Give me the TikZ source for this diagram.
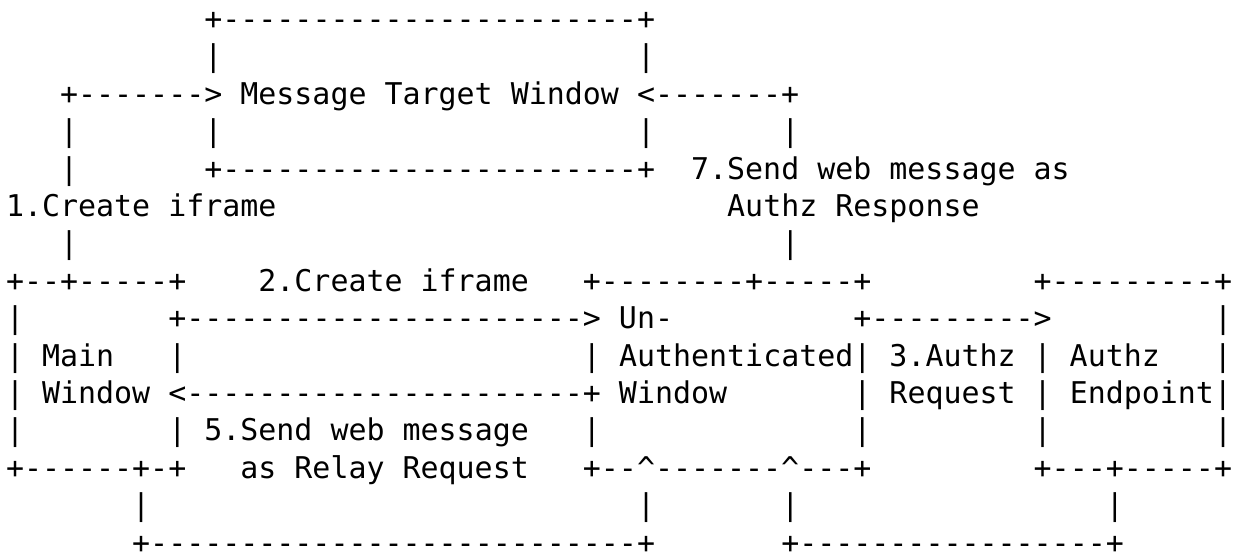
\documentclass[tikz,border=0pt]{standalone}
\usepackage{fontspec}
\newfontfamily\asciifont[Ligatures=TeXOff]{DejaVu Sans Mono}
\ExplSyntaxOn
\NewDocumentCommand\blanks{m}{\prg_replicate:nn{#1}{\nobreakspace}}
\NewDocumentCommand\dashes{m}{\prg_replicate:nn{#1}{-}}
\ExplSyntaxOff
\tikzset{
  row/.style={anchor=base west, inner sep=0pt, outer sep=0pt,
    font={\asciifont\fontsize{14.974pt}{18pt}\selectfont}, text=black}
}
\begin{document}
\begin{tikzpicture}[x=0.5pt,y=-0.5pt]
\fill[white] (0,0) rectangle (1238,552);
\useasboundingbox (0,0) rectangle (1238,552);
\def\rowy#1{29.5+(#1-1)*37.4}
\node[row] (r1)  at (6,{\rowy{1}})  {\blanks{11}+\dashes{23}+};
\node[row] (r2)  at (6,{\rowy{2}})  {\blanks{11}|\blanks{23}|};
\node[row] (r3)  at (6,{\rowy{3}})  {\blanks{3}+\dashes{7}> Message Target Window <\dashes{7}+};
\node[row] (r4)  at (6,{\rowy{4}})  {\blanks{3}|\blanks{7}|\blanks{23}|\blanks{7}|};
\node[row] (r5)  at (6,{\rowy{5}})  {\blanks{3}|\blanks{7}+\dashes{23}+\blanks{2}7.Send web message as};
\node[row] (r6)  at (6,{\rowy{6}})  {1.Create iframe\blanks{25}Authz Response};
\node[row] (r7)  at (6,{\rowy{7}})  {\blanks{3}|\blanks{39}|};
\node[row] (r8)  at (6,{\rowy{8}})  {+\dashes{2}+\dashes{5}+\blanks{4}2.Create iframe\blanks{3}+\dashes{8}+\dashes{5}+\blanks{9}+\dashes{9}+};
\node[row] (r9)  at (6,{\rowy{9}})  {|\blanks{8}+\dashes{22}>\blanks{1}Un-\blanks{10}+\dashes{9}>\blanks{9}|};
\node[row] (r10) at (6,{\rowy{10}}) {|\blanks{1}Main\blanks{3}|\blanks{22}|\blanks{1}Authenticated|\blanks{1}3.Authz\blanks{1}|\blanks{1}Authz\blanks{3}|};
\node[row] (r11) at (6,{\rowy{11}}) {|\blanks{1}Window\blanks{1}<\dashes{22}+\blanks{1}Window\blanks{7}|\blanks{1}Request\blanks{1}|\blanks{1}Endpoint|};
\node[row] (r12) at (6,{\rowy{12}}) {|\blanks{8}|\blanks{1}5.Send web message\blanks{3}|\blanks{14}|\blanks{9}|\blanks{9}|};
\node[row] (r13) at (6,{\rowy{13}}) {+\dashes{6}+-+\blanks{3}as Relay Request\blanks{3}+--\textasciicircum\dashes{7}\textasciicircum---+\blanks{9}+---+\dashes{5}+};
\node[row] (r14) at (6,{\rowy{14}}) {\blanks{7}|\blanks{27}|\blanks{7}|\blanks{17}|};
\node[row] (r15) at (6,{\rowy{15}}) {\blanks{7}+\dashes{27}+\blanks{7}+\dashes{17}+};
\end{tikzpicture}
\end{document}
